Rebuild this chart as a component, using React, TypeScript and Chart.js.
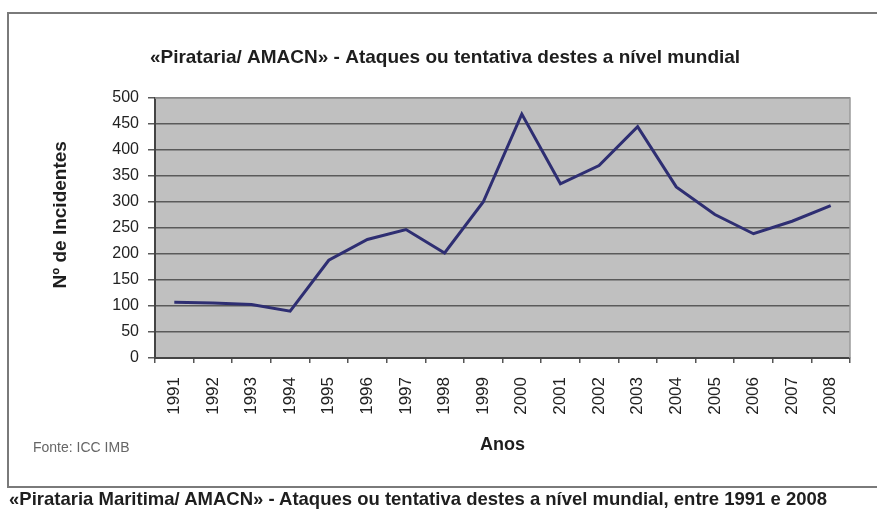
import React, { useEffect, useRef } from "react";
import { Chart, registerables } from "chart.js";

Chart.register(...registerables);

const years: string[] = [
  "1991", "1992", "1993", "1994", "1995", "1996", "1997", "1998", "1999",
  "2000", "2001", "2002", "2003", "2004", "2005", "2006", "2007", "2008",
];
const incidents: number[] = [
  107, 106, 103, 90, 188, 228, 247, 202, 300, 469, 335, 370, 445, 329, 276, 239, 263, 293,
];
const chartTitle = "«Pirataria/ AMACN» - Ataques ou tentativa destes a nível mundial";
const yTitle = "Nº de Incidentes";
const xTitle = "Anos";
const sourceNote = "Fonte: ICC IMB";
const caption = "«Pirataria Maritima/ AMACN» - Ataques ou tentativa destes a nível mundial, entre 1991 e 2008";

const FONT = "'Liberation Sans', Arial, sans-serif";

const plotBg = {
  id: "plotBg",
  beforeDraw(chart: any) {
    const { ctx, chartArea } = chart;
    if (!chartArea) return;
    ctx.save();
    ctx.fillStyle = "#c0c0c0";
    ctx.fillRect(chartArea.left, chartArea.top, chartArea.right - chartArea.left, chartArea.bottom - chartArea.top);
    ctx.restore();
  },
  afterDraw(chart: any) {
    const { ctx, chartArea } = chart;
    ctx.save();
    ctx.strokeStyle = "#9a9a9a";
    ctx.lineWidth = 1.5;
    ctx.beginPath();
    ctx.moveTo(chartArea.left, chartArea.top);
    ctx.lineTo(chartArea.right, chartArea.top);
    ctx.lineTo(chartArea.right, chartArea.bottom);
    ctx.stroke();
    ctx.restore();
  },
};

export default function App() {
  const ref = useRef<HTMLCanvasElement | null>(null);

  useEffect(() => {
    if (!ref.current) return;
    Chart.defaults.font.family = FONT;
    const chart = new Chart(ref.current, {
      type: "line",
      data: {
        labels: years,
        datasets: [
          {
            label: "Incidentes",
            data: incidents,
            borderColor: "#2e2e72",
            borderWidth: 3,
            pointRadius: 0,
            tension: 0,
            fill: false,
          },
        ],
      },
      options: {
        responsive: false,
        animation: false,
        layout: { padding: { left: 40, right: 27, top: 0, bottom: 0 } },
        plugins: {
          legend: { display: false },
          tooltip: { enabled: false },
          title: {
            display: true,
            text: chartTitle,
            color: "#1e1e1e",
            font: { size: 19, weight: "bold", lineHeight: 1.2 },
            padding: { top: 46, bottom: 29.2 },
          },
        },
        scales: {
          x: {
            type: "category",
            offset: true,
            afterFit: (s: any) => {
              s.height = 158;
            },
            grid: {
              display: true,
              drawOnChartArea: false,
              drawTicks: true,
              tickLength: 5,
              offset: true,
              color: "#555",
              lineWidth: 1.5,
            },
            border: { display: true, color: "#444", width: 2 },
            ticks: {
              autoSkip: false,
              minRotation: 90,
              maxRotation: 90,
              padding: 14,
              color: "#222",
              font: { size: 17 },
            },
            title: {
              display: true,
              text: xTitle,
              color: "#1e1e1e",
              font: { size: 18, weight: "bold", lineHeight: 1.2 },
              padding: { top: 0, bottom: 60 },
            },
          },
          y: {
            min: 0,
            max: 500,
            afterFit: (s: any) => {
              s.width = 115;
            },
            grid: {
              color: "#5a5a5a",
              lineWidth: 1.5,
              drawTicks: true,
              tickLength: 7,
            },
            border: { display: true, color: "#444", width: 2 },
            ticks: {
              stepSize: 50,
              padding: 9,
              color: "#222",
              font: { size: 16 },
            },
            title: {
              display: true,
              text: "     " + yTitle,
              color: "#1e1e1e",
              font: { size: 19, weight: "bold", lineHeight: 1.2 },
              padding: { top: 9, bottom: 0 },
            },
          },
        },
      },
      plugins: [plotBg],
    });
    return () => chart.destroy();
  }, []);

  return (
    <div style={{ position: "absolute", left: 0, top: 0, width: 877, height: 516, overflow: "hidden", background: "#fff" }}>
      <div
        style={{
          position: "absolute",
          left: 7,
          top: 12,
          width: 900,
          height: 476,
          border: "2px solid #7a7a7a",
          boxSizing: "border-box",
        }}
      />
      <canvas ref={ref} width={877} height={516} style={{ position: "absolute", left: 0, top: 0, width: 877, height: 516 }} />
      <div
        style={{
          position: "absolute",
          left: 33,
          top: 438,
          fontFamily: FONT,
          fontSize: 14,
          color: "#666",
          whiteSpace: "nowrap",
          lineHeight: "18px",
        }}
      >
        {sourceNote}
      </div>
      <div
        style={{
          position: "absolute",
          left: 9,
          top: 489,
          fontFamily: FONT,
          fontSize: 18.5,
          fontWeight: "bold",
          color: "#1e1e1e",
          whiteSpace: "nowrap",
          lineHeight: "20px",
        }}
      >
        {caption}
      </div>
    </div>
  );
}
